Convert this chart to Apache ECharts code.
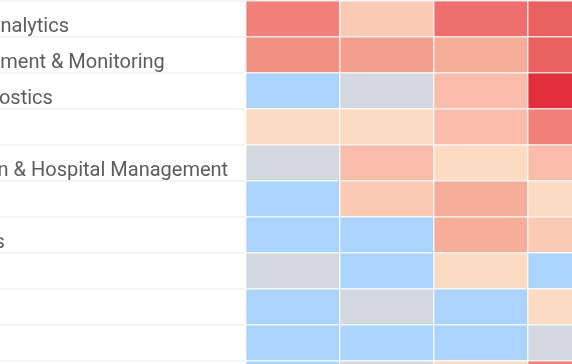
<!DOCTYPE html>
<html>
<head>
<meta charset="utf-8">
<style>
  html, body { margin: 0; padding: 0; background: #ffffff; overflow: hidden; }
  #chart { width: 572px; height: 364px; }
</style>
<script src="https://cdn.jsdelivr.net/npm/echarts@6/dist/echarts.min.js"></script>
</head>
<body>
<div id="chart"></div>
<script>
// Row categories (top to bottom)
const rows = [
  "Health Data Analytics",
  "Client Engagement & Monitoring",
  "Clinical Diagnostics",
  "Genomics",
  "Administration & Hospital Management",
  "Chatbots",
  "Health Portals",
  "Wearables",
  "Radiology",
  "Pathology",
  "Pharmacy"
];
// Column categories
const cols = ["2020", "2021", "2022", "2023"];
// Level values per row (0 = none, 1 = neutral, 2..11 = increasing intensity)
const r01 = [8, 3, 9, 10];
const r02 = [7, 6, 5, 10];
const r03 = [0, 1, 4, 11];
const r04 = [2, 2, 4, 8];
const r05 = [1, 4, 2, 4];
const r06 = [0, 3, 5, 2];
const r07 = [0, 0, 5, 3];
const r08 = [1, 0, 2, 0];
const r09 = [0, 1, 0, 2];
const r10 = [0, 0, 0, 1];
const r11 = [0, 1, 2, 8];
const values = [r01, r02, r03, r04, r05, r06, r07, r08, r09, r10, r11];
// Colour ramp for levels 0..11
const ramp = ['#aad4fe', '#d3d7df', '#fbdcc2', '#facbb2', '#f8bca8', '#f6ae9a',
              '#f49e8d', '#f29082', '#f08078', '#ee6f6d', '#ea615f', '#e32e3b'];

const data = [];
values.forEach((row, y) => row.forEach((v, x) => data.push([x, y, v])));

const chart = echarts.init(document.getElementById('chart'));
chart.setOption({
  animation: false,
  backgroundColor: '#ffffff',
  grid: { left: 246, top: 1, width: 376, height: 396, outerBoundsMode: 'none', containLabel: false },
  xAxis: {
    type: 'category', data: cols,
    axisLine: { show: false }, axisTick: { show: false }, splitLine: { show: false },
    axisLabel: { show: false }
  },
  yAxis: {
    type: 'category', data: rows, inverse: true,
    axisLine: { show: false },
    axisTick: { show: true, length: 270, lineStyle: { color: '#efefef', width: 1.5 } },
    splitLine: { show: false },
    axisLabel: {
      align: 'left', verticalAlign: 'top', lineHeight: 16, margin: 368, interval: 0,
      fontFamily: 'Roboto', fontSize: 20, color: '#5c5c5c'
    }
  },
  visualMap: {
    show: false, type: 'continuous', min: 0, max: 11, dimension: 2,
    inRange: { color: ramp }
  },
  series: [{
    type: 'heatmap', data: data,
    itemStyle: { borderColor: 'rgba(255,255,255,0.75)', borderWidth: 1.5 },
    emphasis: { disabled: true }
  }]
});
</script>
</body>
</html>
